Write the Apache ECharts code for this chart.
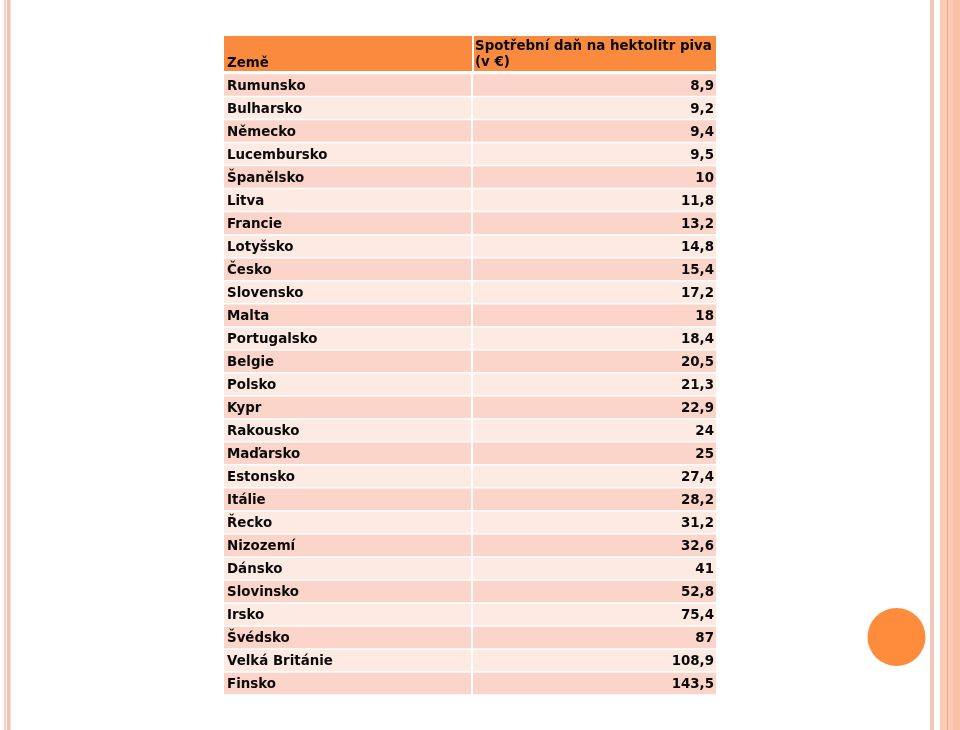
<!DOCTYPE html>
<html>
<head>
<meta charset="utf-8">
<script src="https://cdn.jsdelivr.net/npm/echarts@6/dist/echarts.min.js"></script>
<style>html,body{margin:0;padding:0;background:#fff}#c{width:960px;height:730px}</style>
</head>
<body>
<div id="c"></div>
<script>
const columnHeaders = ['Země', 'Spotřební daň na hektolitr piva\n(v €)'];
const countries = ['Rumunsko','Bulharsko','Německo','Lucembursko','Španělsko','Litva','Francie','Lotyšsko','Česko','Slovensko','Malta','Portugalsko','Belgie','Polsko','Kypr','Rakousko','Maďarsko','Estonsko','Itálie','Řecko','Nizozemí','Dánsko','Slovinsko','Irsko','Švédsko','Velká Británie','Finsko'];
const exciseValues = [8.9,9.2,9.4,9.5,10,11.8,13.2,14.8,15.4,17.2,18,18.4,20.5,21.3,22.9,24,25,27.4,28.2,31.2,32.6,41,52.8,75.4,87,108.9,143.5];

const FONT = 'bold 13.4px "DejaVu Sans", Verdana, sans-serif';
const GRID = {left: 224, right: 244, top: 73.5, bottom: 35};
const fmt = v => String(v).replace('.', ',');

const chart = echarts.init(document.getElementById('c'), null, {renderer: 'canvas'});

function renderRow(params, api) {
  const row = api.value(0);
  const size = api.size([1, 1]);
  const bw = size[0], bh = size[1];
  const c0 = api.coord([0, row]);
  const c1 = api.coord([1, row]);
  const fill = row % 2 === 0 ? '#FCD5CA' : '#FDEAE3';
  const y0 = c0[1] - bh / 2 + 0.75;
  const h = bh - 1.5;
  const x0 = c0[0] - bw / 2;
  const x1 = c1[0] - bw / 2 + 3;
  const x1e = c1[0] + bw / 2;
  return {
    type: 'group',
    children: [
      {type: 'rect', shape: {x: x0, y: y0, width: bw + 1, height: h}, style: {fill: fill}},
      {type: 'rect', shape: {x: x1, y: y0, width: x1e - x1, height: h}, style: {fill: fill}},
      {type: 'text', style: {x: x0 + 3, y: c0[1] + 1.5, text: countries[row], font: FONT, fill: '#0a0a0a', textAlign: 'left', textVerticalAlign: 'middle'}},
      {type: 'text', style: {x: x1e - 2, y: c0[1] + 1.5, text: fmt(api.value(1)), font: FONT, fill: '#0a0a0a', textAlign: 'right', textVerticalAlign: 'middle'}}
    ]
  };
}

const option = {
  animation: false,
  backgroundColor: '#ffffff',
  grid: GRID,
  xAxis: {type: 'category', data: columnHeaders, show: false},
  yAxis: {type: 'category', data: countries, inverse: true, show: false},
  series: [{
    type: 'custom',
    renderItem: renderRow,
    data: countries.map((c, i) => [i, exciseValues[i]]),
    encode: {x: -1, y: 0}
  }],
  graphic: [
    // left decorative stripes
    {type: 'rect', shape: {x: 4, y: 0, width: 2, height: 730}, style: {fill: '#F3D3C6'}, silent: true},
    {type: 'rect', shape: {x: 7, y: 0, width: 3, height: 730}, style: {fill: '#F6C0AE'}, silent: true},
    {type: 'rect', shape: {x: 10, y: 0, width: 1, height: 730}, style: {fill: '#FBE0D6'}, silent: true},
    // right decorative stripes
    {type: 'rect', shape: {x: 930, y: 0, width: 4, height: 730}, style: {fill: '#F4C8B8'}, silent: true},
    {type: 'rect', shape: {x: 940, y: 0, width: 20, height: 730}, style: {fill: '#FCCBB6'}, silent: true},
    {type: 'rect', shape: {x: 947, y: 0, width: 1, height: 730}, style: {fill: '#F2A27E'}, silent: true},
    {type: 'rect', shape: {x: 953, y: 0, width: 7, height: 730}, style: {fill: '#FAC0A8'}, silent: true},
    // orange circle
    {type: 'circle', shape: {cx: 896.5, cy: 637, r: 29}, style: {fill: '#FF8B3D'}, silent: true},
    // header cells
    {type: 'rect', shape: {x: 224, y: 36, width: 248, height: 35}, style: {fill: '#FA8A3E'}, silent: true},
    {type: 'rect', shape: {x: 474, y: 36, width: 242, height: 35}, style: {fill: '#FA8A3E'}, silent: true},
    {type: 'text', style: {x: 227, y: 63.5, text: columnHeaders[0], font: FONT, fill: '#0a0a0a', textVerticalAlign: 'middle'}, silent: true},
    {type: 'text', style: {x: 475, y: 47, text: columnHeaders[1].split('\n')[0], font: FONT, fill: '#0a0a0a', textVerticalAlign: 'middle'}, silent: true},
    {type: 'text', style: {x: 475, y: 63, text: columnHeaders[1].split('\n')[1], font: FONT, fill: '#0a0a0a', textVerticalAlign: 'middle'}, silent: true}
  ]
};
chart.setOption(option);
</script>
</body>
</html>
